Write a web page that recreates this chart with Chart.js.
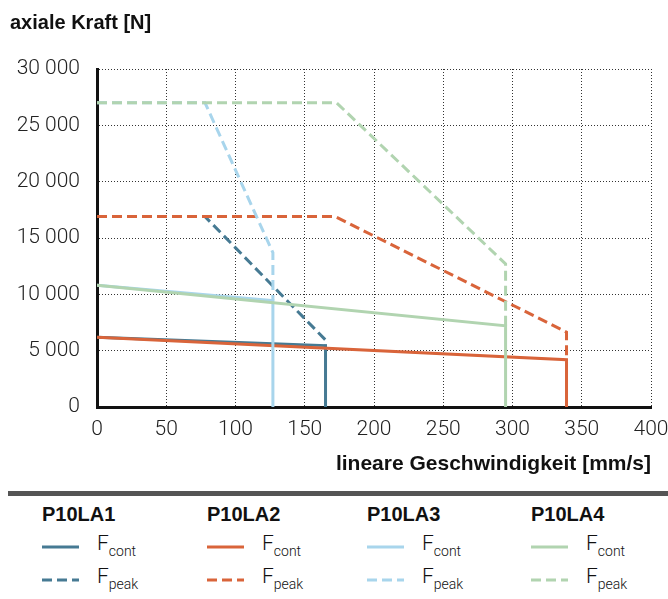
<!DOCTYPE html>
<html>
<head>
<meta charset="utf-8">
<script src="https://cdn.jsdelivr.net/npm/chart.js@4.4.1/dist/chart.umd.min.js"></script>
<style>
  body { margin: 0; background: #fff; }
  #wrap { position: relative; width: 668px; height: 599px; overflow: hidden; font-family: "Liberation Sans", Arial, sans-serif; color: #111; }
  #ytitle { position: absolute; left: 10px; top: 11px; font-size: 20px; font-weight: bold; line-height: 22px; }
  #bar { position: absolute; left: 8px; top: 491px; width: 660px; height: 5px; background: #555; }
  .grp { position: absolute; top: 503px; }
  .grp .head { font-size: 20px; font-weight: bold; line-height: 22px; }
  .row { position: absolute; left: 0; white-space: nowrap; }
  .row svg { position: absolute; left: 0; }
  .row .lbl { position: absolute; left: 55px; font-family: Roboto, "Liberation Sans", sans-serif; font-weight: 300; font-size: 21px; line-height: 24px; }
  .row .lbl sub { font-size: 14px; vertical-align: -6px; }
</style>
</head>
<body>
<div id="wrap">
  <canvas id="chart" width="668" height="480"></canvas>
  <div id="ytitle">axiale Kraft [N]</div>
  <div id="bar"></div>
  <div id="legend"></div>
</div>
<script>
// tick labels
var xTicks = [0, 50, 100, 150, 200, 250, 300, 350, 400];
var yTicks = [0, 5000, 10000, 15000, 20000, 25000, 30000];

// series: speed [mm/s] / force [N]
var models = ['P10LA1', 'P10LA2', 'P10LA3', 'P10LA4'];
var colors = ['#467a93', '#d9643a', '#a8d5ec', '#b1d4b0'];

var speedLA1Cont = [0, 165, 165];
var forceLA1Cont = [6200, 5450, 0];
var speedLA1Peak = [0, 78, 165, 165];
var forceLA1Peak = [16900, 16900, 5950, 5450];

var speedLA2Cont = [0, 339, 339];
var forceLA2Cont = [6200, 4200, 0];
var speedLA2Peak = [0, 172, 339, 339];
var forceLA2Peak = [16900, 16900, 6650, 4200];

var speedLA3Cont = [0, 127, 127];
var forceLA3Cont = [10800, 9450, 0];
var speedLA3Peak = [0, 78, 127, 127];
var forceLA3Peak = [27000, 27000, 13700, 9450];

var speedLA4Cont = [0, 295, 295];
var forceLA4Cont = [10800, 7200, 0];
var speedLA4Peak = [0, 173, 295, 295];
var forceLA4Peak = [27000, 27000, 12700, 7200];

var contSpeeds = [speedLA1Cont, speedLA2Cont, speedLA3Cont, speedLA4Cont];
var contForces = [forceLA1Cont, forceLA2Cont, forceLA3Cont, forceLA4Cont];
var peakSpeeds = [speedLA1Peak, speedLA2Peak, speedLA3Peak, speedLA4Peak];
var peakForces = [forceLA1Peak, forceLA2Peak, forceLA3Peak, forceLA4Peak];

function pts(xs, ys) {
    return xs.map(function (x, i) { return { x: x, y: ys[i] }; });
}

function fmt(v) {
    return String(v).replace(/\B(?=(\d{3})+(?!\d))/g, ' ');
}

var dashPattern = [10, 5];
var datasets = [];
models.forEach(function (m, i) {
    // later models sit on top
    datasets.push({
        label: m + ' Fcont',
        data: pts(contSpeeds[i], contForces[i]),
        borderColor: colors[i],
        borderWidth: 3,
        order: 10 - i * 2
    });
    datasets.push({
        label: m + ' Fpeak',
        data: pts(peakSpeeds[i], peakForces[i]),
        borderColor: colors[i],
        borderWidth: 3,
        borderDash: dashPattern,
        order: 9 - i * 2
    });
});

var tickFont = { family: 'Roboto, "Liberation Sans", sans-serif', size: 21, weight: 300 };

new Chart(document.getElementById('chart'), {
    type: 'line',
    data: { datasets: datasets },
    options: {
        responsive: false,
        animation: false,
        layout: { padding: { top: 69, right: 17, left: 0, bottom: 0 } },
        elements: {
            point: { radius: 0 },
            line: { tension: 0, borderCapStyle: 'butt', borderJoinStyle: 'miter' }
        },
        plugins: { legend: { display: false }, tooltip: { enabled: false } },
        scales: {
            x: {
                type: 'linear',
                min: 0,
                max: 400,
                afterBuildTicks: function (s) { s.ticks = xTicks.map(function (v) { return { value: v }; }); },
                afterFit: function (s) { s.height = 73; s.paddingLeft = 0; s.paddingRight = 0; },
                ticks: { font: tickFont, color: '#222', padding: 10 },
                grid: { color: '#333', lineWidth: 1, drawTicks: false },
                border: { color: '#111', width: 3, dash: [1, 2] },
                title: {
                    display: true,
                    text: 'lineare Geschwindigkeit [mm/s]',
                    align: 'end',
                    color: '#111',
                    font: { family: '"Liberation Sans", Arial, sans-serif', size: 21, weight: 'bold' },
                    padding: { top: 0, bottom: 3 }
                }
            },
            y: {
                min: 0,
                max: 30000,
                afterBuildTicks: function (s) { s.ticks = yTicks.map(function (v) { return { value: v }; }); },
                afterFit: function (s) { s.width = 97; s.paddingTop = 0; s.paddingBottom = 0; },
                ticks: { font: tickFont, color: '#222', padding: 17, callback: function (v) { return fmt(v); } },
                grid: { color: '#333', lineWidth: 1, drawTicks: false },
                border: { color: '#111', width: 3, dash: [1, 2] }
            }
        }
    }
});

// legend below the chart
var groupX = [42, 207, 367, 531];
var legend = document.getElementById('legend');
models.forEach(function (m, i) {
    var g = document.createElement('div');
    g.className = 'grp';
    g.style.left = groupX[i] + 'px';
    var html = '<div class="head">' + m + '</div>';
    [['cont', 44, ''], ['peak', 77, '10 5']].forEach(function (r) {
        html += '<div class="row" style="top:' + (r[1] - 12) + 'px">' +
            '<svg width="40" height="24"><line x1="0" y1="12" x2="37" y2="12" stroke="' + colors[i] +
            '" stroke-width="3"' + (r[2] ? ' stroke-dasharray="' + r[2] + '"' : '') + '/></svg>' +
            '<span class="lbl" style="top:-4px">F<sub>' + r[0] + '</sub></span></div>';
    });
    g.innerHTML = html;
    legend.appendChild(g);
});
</script>
</body>
</html>
